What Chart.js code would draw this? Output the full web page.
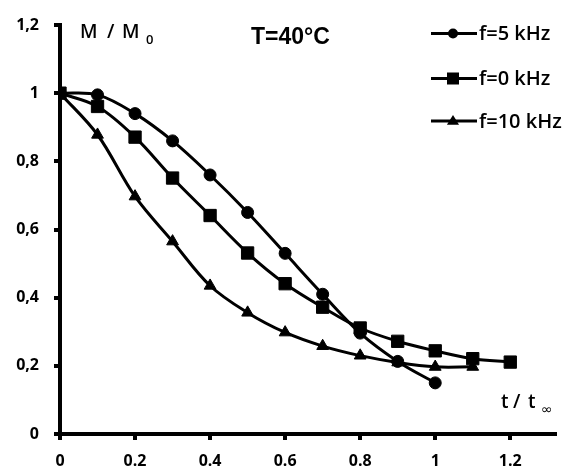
<!DOCTYPE html>
<html><head><meta charset="utf-8">
<script src="https://cdn.jsdelivr.net/npm/chart.js@4/dist/chart.umd.min.js"></script>
<style>html,body{margin:0;padding:0;background:#fff}#wrap{width:565px;height:469px}</style>
</head><body><div id="wrap"><canvas id="c" width="565" height="469"></canvas></div>
<script>
// ---- data ----
const tValues = [0, 0.1, 0.2, 0.3, 0.4, 0.5, 0.6, 0.7, 0.8, 0.9, 1.0, 1.1, 1.2];
const f5kHz  = [1.00, 0.995, 0.94, 0.86, 0.76, 0.65, 0.53, 0.41, 0.296, 0.213, 0.15];
const f0kHz  = [1.00, 0.961, 0.871, 0.751, 0.641, 0.531, 0.441, 0.372, 0.311, 0.272, 0.244, 0.221, 0.211];
const f10kHz = [1.00, 0.878, 0.697, 0.565, 0.435, 0.356, 0.298, 0.258, 0.23, 0.21, 0.197, 0.197];
const seriesNames = ['f=5 kHz', 'f=0 kHz', 'f=10 kHz'];
const xTickValues = [0, 0.2, 0.4, 0.6, 0.8, 1, 1.2];
const yTickValues = [0, 0.2, 0.4, 0.6, 0.8, 1, 1.2];
const yTitleParts = ['M', '/', 'M'], yTitleSub = '0';
const xTitleParts = ['t', '/', 't'], xTitleSub = '\u221E';
const chartTitle = 'T=40\u00B0C';

const toPts = (ys) => ys.map((y, i) => ({x: tValues[i], y: y}));
const styles = ['circle', 'rect', 'triangle'];
const radii = [6, 8.7, 6.8];
const seriesData = [f5kHz, f0kHz, f10kHz];

const datasets = seriesData.map((d, i) => ({
  label: seriesNames[i],
  data: toPts(d),
  borderColor: '#000',
  backgroundColor: '#000',
  pointBackgroundColor: '#000',
  pointBorderColor: '#000',
  pointBorderWidth: 1,
  pointStyle: styles[i],
  pointRadius: radii[i],
  borderWidth: 3,
  tension: 0.35,
  fill: false
}));

function drawMarker(ctx, style, x, y, r) {
  ctx.beginPath();
  if (style === 'circle') {
    ctx.arc(x, y, r, 0, Math.PI * 2);
  } else if (style === 'rect') {
    ctx.rect(x - r, y - r, 2 * r, 2 * r);
  } else {
    ctx.moveTo(x, y - r * 1.1);
    ctx.lineTo(x + r * 1.1, y + r * 0.7);
    ctx.lineTo(x - r * 1.1, y + r * 0.7);
    ctx.closePath();
  }
  ctx.fill();
}

const textPlugin = {
  id: 'texts',
  afterDraw(chart) {
    const ctx = chart.ctx;
    ctx.save();
    ctx.fillStyle = '#000';
    ctx.textBaseline = 'middle';
    // chart title
    ctx.font = 'bold 23px "Liberation Sans"';
    ctx.textAlign = 'left';
    ctx.fillText(chartTitle, 251, 38);
    // y title (M / M0)
    ctx.font = '600 19px "Open Sans"';
    const yx = [80, 107, 122];
    yTitleParts.forEach((p, i) => ctx.fillText(p, yx[i], 33));
    ctx.font = '600 13px "Open Sans"';
    ctx.fillText(yTitleSub, 146, 40);
    // x title (t / t∞)
    ctx.font = '600 19px "Open Sans"';
    const xx = [501, 513, 528];
    xTitleParts.forEach((p, i) => ctx.fillText(p, xx[i], 403));
    ctx.font = '14px "DejaVu Sans"';
    ctx.fillText(xTitleSub, 541, 410);
    // legend
    const ly = [33.5, 78.5, 121];
    const lr = [5, 6, 5.5];
    seriesNames.forEach((name, i) => {
      ctx.strokeStyle = '#000';
      ctx.lineWidth = 3;
      ctx.beginPath();
      ctx.moveTo(431, ly[i]);
      ctx.lineTo(477, ly[i]);
      ctx.stroke();
      drawMarker(ctx, styles[i], 453, ly[i], lr[i]);
      ctx.font = '600 20px "Open Sans"';
      ctx.fillText(name, 479, ly[i] + 1);
    });
    ctx.restore();
  }
};

new Chart(document.getElementById('c'), {
  type: 'line',
  data: { datasets },
  plugins: [textPlugin],
  options: {
    responsive: false,
    animation: false,
    devicePixelRatio: 1,
    layout: { padding: { top: 25, right: 5, left: 0, bottom: 0 } },
    plugins: { legend: { display: false }, tooltip: { enabled: false } },
    scales: {
      x: {
        type: 'linear',
        min: 0, max: 1.32,
        afterBuildTicks: (s) => { s.ticks = xTickValues.map(v => ({value: v})); },
        afterFit: (s) => { s.height = 35; },
        ticks: {
          callback: (v) => String(v),
          color: '#000',
          font: { family: '"Open Sans"', size: 16, weight: 'bold' },
          padding: 12,
          maxRotation: 0
        },
        grid: { drawOnChartArea: false, drawTicks: true, tickLength: 6, lineWidth: 4, color: '#000' },
        border: { display: true, color: '#000', width: 4 }
      },
      y: {
        type: 'linear',
        min: 0, max: 1.2,
        afterBuildTicks: (s) => { s.ticks = yTickValues.map(v => ({value: v})); },
        afterFit: (s) => { s.width = 60; },
        ticks: {
          callback: (v) => String(v).replace('.', ','),
          color: '#000',
          font: { family: '"Open Sans"', size: 16, weight: 'bold' },
          padding: 15
        },
        grid: { drawOnChartArea: false, drawTicks: true, tickLength: 6, lineWidth: 4, color: '#000' },
        border: { display: true, color: '#000', width: 4 }
      }
    }
  }
});
</script></body></html>
